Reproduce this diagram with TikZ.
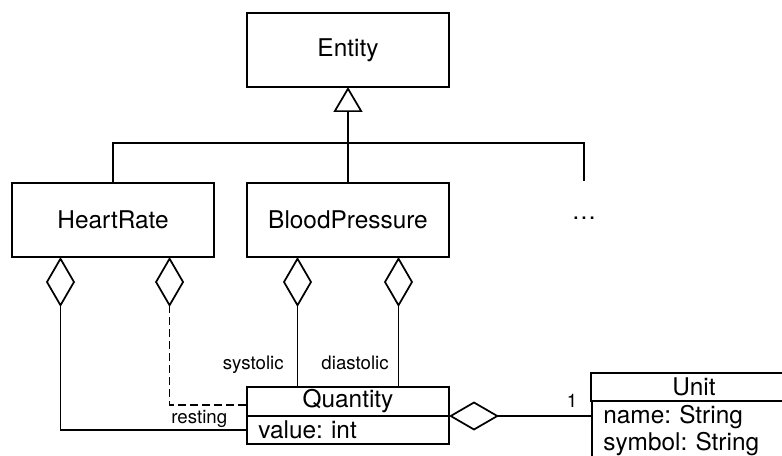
\documentclass[tikz,border=0pt]{standalone}
\usepackage{fontspec}
\setmainfont{TeX Gyre Heros}
\usetikzlibrary{arrows.meta,calc,positioning}
\frenchspacing

\tikzset{
  umlline/.style={line width=1.3pt},
  umlclass/.style={draw, line width=1.3pt, outer sep=0pt, inner sep=0pt,
    minimum width=151.5pt, minimum height=55.5pt, font=\fontsize{18.3}{21}\selectfont},
  classname/.style={draw, line width=1.3pt, outer sep=0pt, inner sep=0pt,
    minimum width=151.5pt, minimum height=21.75pt, font=\fontsize{18.3}{21}\selectfont},
  classattr/.style={draw, line width=1.3pt, outer sep=0pt, inner ysep=0pt, inner xsep=8.5pt,
    text width=134.5pt, align=left, minimum height=21pt, font=\fontsize{18.3}{20.25}\selectfont},
  rolelabel/.style={inner sep=0pt, font=\fontsize{14}{16}\selectfont},
  aggregation/.style={{Diamond[open, length=37.5pt, width=21.75pt]}-},
  generalization/.style={-{Triangle[open, length=18.75pt, width=21.75pt]}},
}

\begin{document}
\begin{tikzpicture}[x=0.75pt,y=0.75pt,yscale=-1,xscale=1]
        \useasboundingbox (0,0) rectangle (782,456);
        \clip (0,0) rectangle (782,456);

        % classes
        \node [umlclass] (entity) at (348,50) {Entity};
        \node [umlclass] (heartrate) at (113,220) {HeartRate};
        \node [umlclass] (bloodpressure) at (348,220) {BloodPressure};
        \node [umlclass, draw=none] (more) at (584,218) {\dots};

        \node [classname] (quantity) at (348,401.5) {Quantity};
        \node [classattr, below=0pt of quantity] (quantityattr) {value: int};

        \node [classname, minimum width=154.5pt, minimum height=21pt] (unit) at (694,387) {Unit};
        \node [classattr, below=0pt of unit, text width=136pt, minimum height=44pt] (unitattr) {name: String\\symbol: String};

        % generalization
        \coordinate (bus) at (0,143);
        \draw [umlline] (heartrate.north) |- (more.north |- bus) -- (more.north);
        \draw [umlline, generalization] (bloodpressure.north) -- (entity.south);

        % aggregation
        \coordinate (hrleft) at ($(heartrate.south west)!0.24!(heartrate.south east)$);
        \coordinate (hrright) at ($(heartrate.south west)!0.78!(heartrate.south east)$);
        \coordinate (bpleft) at ($(bloodpressure.south west)!0.25!(bloodpressure.south east)$);
        \coordinate (bpright) at ($(bloodpressure.south west)!0.75!(bloodpressure.south east)$);

        \draw [umlline, aggregation] (hrleft) |- (quantityattr.west);
        \draw [umlline, aggregation, dash pattern={on 6pt off 3pt}] (hrright) |- ($(quantity.west)+(0,3.5)$)
            node [rolelabel, anchor=base east, xshift=-14.25pt, yshift=-13.5pt] (resting) {resting};
        \draw [umlline, aggregation] (bpleft) -- (bpleft |- quantity.north)
            node [rolelabel, anchor=base east, xshift=-9.75pt, yshift=13.5pt] (systolic) {systolic};
        \draw [umlline, aggregation] (bpright) -- (bpright |- quantity.north)
            node [rolelabel, anchor=base east, xshift=-6.75pt, yshift=13.5pt] (diastolic) {diastolic};
        \draw [umlline, aggregation] (quantity.south east) -- (quantity.south east -| unitattr.west)
            node [rolelabel, anchor=base east, xshift=-10.5pt, yshift=6.75pt] (one) {1};
\end{tikzpicture}
\end{document}
